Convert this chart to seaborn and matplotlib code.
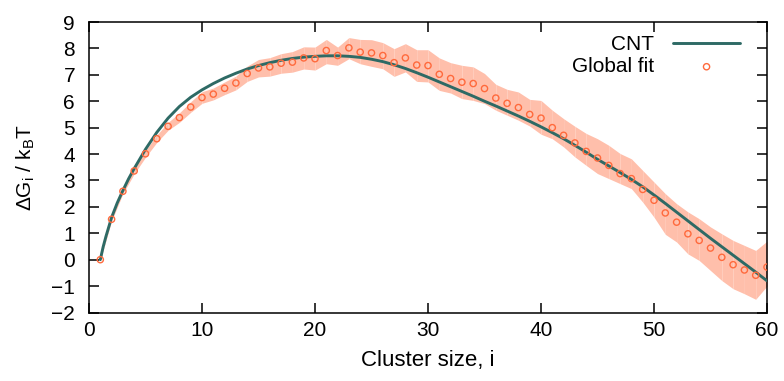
import numpy as np
import pandas as pd
import matplotlib
matplotlib.use("Agg")
import matplotlib.pyplot as plt
import seaborn as sns

# ---- data ----
cluster_size = list(range(1, 61))
global_fit = [0.00, 1.53, 2.59, 3.36, 4.01, 4.58, 5.05, 5.38, 5.78, 6.14,
              6.27, 6.49, 6.69, 7.05, 7.26, 7.30, 7.44, 7.48, 7.64, 7.61,
              7.92, 7.73, 8.02, 7.86, 7.83, 7.73, 7.46, 7.64, 7.37, 7.35,
              7.02, 6.86, 6.72, 6.67, 6.48, 6.12, 5.92, 5.76, 5.50, 5.36,
              5.00, 4.71, 4.42, 4.10, 3.85, 3.57, 3.26, 3.07, 2.66, 2.25,
              1.77, 1.42, 0.98, 0.73, 0.44, 0.09, -0.19, -0.39, -0.59, -0.28]
band_low = [-0.02, 1.47, 2.50, 3.25, 3.88, 4.44, 4.90, 5.20, 5.58, 5.92,
            6.05, 6.25, 6.43, 6.75, 6.92, 6.95, 7.06, 7.10, 7.22, 7.18,
            7.42, 7.36, 7.61, 7.42, 7.32, 7.23, 6.94, 7.11, 6.75, 6.73,
            6.41, 6.31, 6.10, 6.03, 5.91, 5.66, 5.47, 5.28, 5.06, 4.75,
            4.58, 4.27, 3.89, 3.57, 3.26, 3.07, 2.88, 2.69, 2.18, 1.61,
            0.96, 0.67, 0.22, -0.03, -0.41, -0.79, -1.10, -1.29, -1.50, -1.00]
band_high = [0.02, 1.60, 2.68, 3.48, 4.14, 4.72, 5.20, 5.56, 5.98, 6.36,
             6.50, 6.73, 6.95, 7.33, 7.58, 7.65, 7.80, 7.88, 8.06, 8.05,
             8.34, 8.05, 8.41, 8.34, 8.33, 8.22, 7.99, 8.18, 7.95, 7.95,
             7.64, 7.46, 7.36, 7.30, 7.05, 6.64, 6.45, 6.35, 6.07, 6.03,
             5.66, 5.34, 5.05, 4.78, 4.58, 4.33, 4.02, 3.82, 3.38, 2.94,
             2.50, 2.12, 1.81, 1.55, 1.24, 0.98, 0.73, 0.54, 0.35, 0.70]

cnt_size = [1, 1.25, 1.5, 2, 2.5, 3, 3.5, 4, 5, 6, 7, 8, 9, 10, 11, 12, 13, 14,
            15, 16, 17, 18, 19, 20, 21, 22, 23, 24, 25, 26, 27, 28, 29, 30,
            31, 32, 33, 34, 35, 36, 37, 38, 39, 40, 41, 42, 43, 44, 45, 46,
            47, 48, 49, 50, 51, 52, 53, 54, 55, 56, 57, 58, 59, 60]
cnt_values = [0.00, 0.48, 0.88, 1.60, 2.15, 2.62, 3.06, 3.45, 4.18, 4.82,
              5.36, 5.80, 6.15, 6.43, 6.67, 6.88, 7.06, 7.22, 7.35, 7.46,
              7.55, 7.62, 7.67, 7.70, 7.72, 7.72, 7.70, 7.66, 7.59, 7.50,
              7.38, 7.24, 7.08, 6.91, 6.73, 6.55, 6.37, 6.19, 6.00, 5.82,
              5.63, 5.44, 5.24, 5.03, 4.81, 4.58, 4.33, 4.07, 3.80, 3.55,
              3.30, 3.04, 2.76, 2.45, 2.13, 1.80, 1.47, 1.14, 0.81, 0.49,
              0.17, -0.15, -0.47, -0.80]

x_ticks = [0, 10, 20, 30, 40, 50, 60]
y_ticks = [-2, -1, 0, 1, 2, 3, 4, 5, 6, 7, 8, 9]

fit_df = pd.DataFrame({"i": cluster_size, "dG": global_fit,
                       "lo": band_low, "hi": band_high})
cnt_df = pd.DataFrame({"i": cnt_size, "dG": cnt_values})

# ---- style ----
sns.set_style("ticks")
plt.rcParams["font.family"] = ["Liberation Sans", "DejaVu Sans"]
plt.rcParams["mathtext.default"] = "regular"
plt.rcParams["axes.linewidth"] = 1.1
plt.rcParams["text.color"] = "black"
plt.rcParams["axes.labelcolor"] = "black"
plt.rcParams["xtick.color"] = "black"
plt.rcParams["ytick.color"] = "black"

fig = plt.figure(figsize=(7.84, 3.81), dpi=100)
ax = fig.add_axes([89 / 784, 1 - 312.5 / 381, (767 - 89) / 784, (312.5 - 22) / 381])

band_color = "#FFBFAB"
line_color = "#2E6A65"
pt_color = "#FF6A3D"

# shaded band, drawn segment by segment (gives faint seams like reference)
for k in range(len(fit_df) - 1):
    seg = fit_df.iloc[k:k + 2]
    ax.fill_between(seg["i"], seg["lo"], seg["hi"], color=band_color,
                    linewidth=0, antialiased=True, zorder=1)

sns.lineplot(data=cnt_df, x="i", y="dG", ax=ax, color=line_color,
             linewidth=2.1, label="CNT", zorder=3, legend=False)
sns.scatterplot(data=fit_df, x="i", y="dG", ax=ax, marker="o",
                facecolor="none", edgecolor=pt_color, linewidth=1.0,
                s=20, label="Global fit", zorder=4, legend=False)

ax.set_xlim(0, 60)
ax.set_ylim(-2, 9)
ax.set_xticks(x_ticks)
ax.set_yticks(y_ticks)
ax.tick_params(direction="in", length=7, width=1.1, top=True, right=True,
               labelsize=15, colors="black")
ax.tick_params(axis="x", pad=6)
ax.tick_params(axis="y", pad=10)
for s in ax.spines.values():
    s.set_visible(True)
    s.set_color("black")

ax.set_xlabel("Cluster size, i", fontsize=16, labelpad=7)
ax.set_ylabel(r"$\Delta$G$_{i}$ / k$_{B}$T", fontsize=15, labelpad=10)

h, l = ax.get_legend_handles_labels()
leg = ax.legend(h, l, loc="upper right", bbox_to_anchor=(0.960, 0.955),
                frameon=False, markerfirst=False, fontsize=15,
                handlelength=3.2, handletextpad=0.9, labelspacing=0.15,
                borderaxespad=0, borderpad=0, numpoints=1)

fig.savefig("out.png", dpi=100)
